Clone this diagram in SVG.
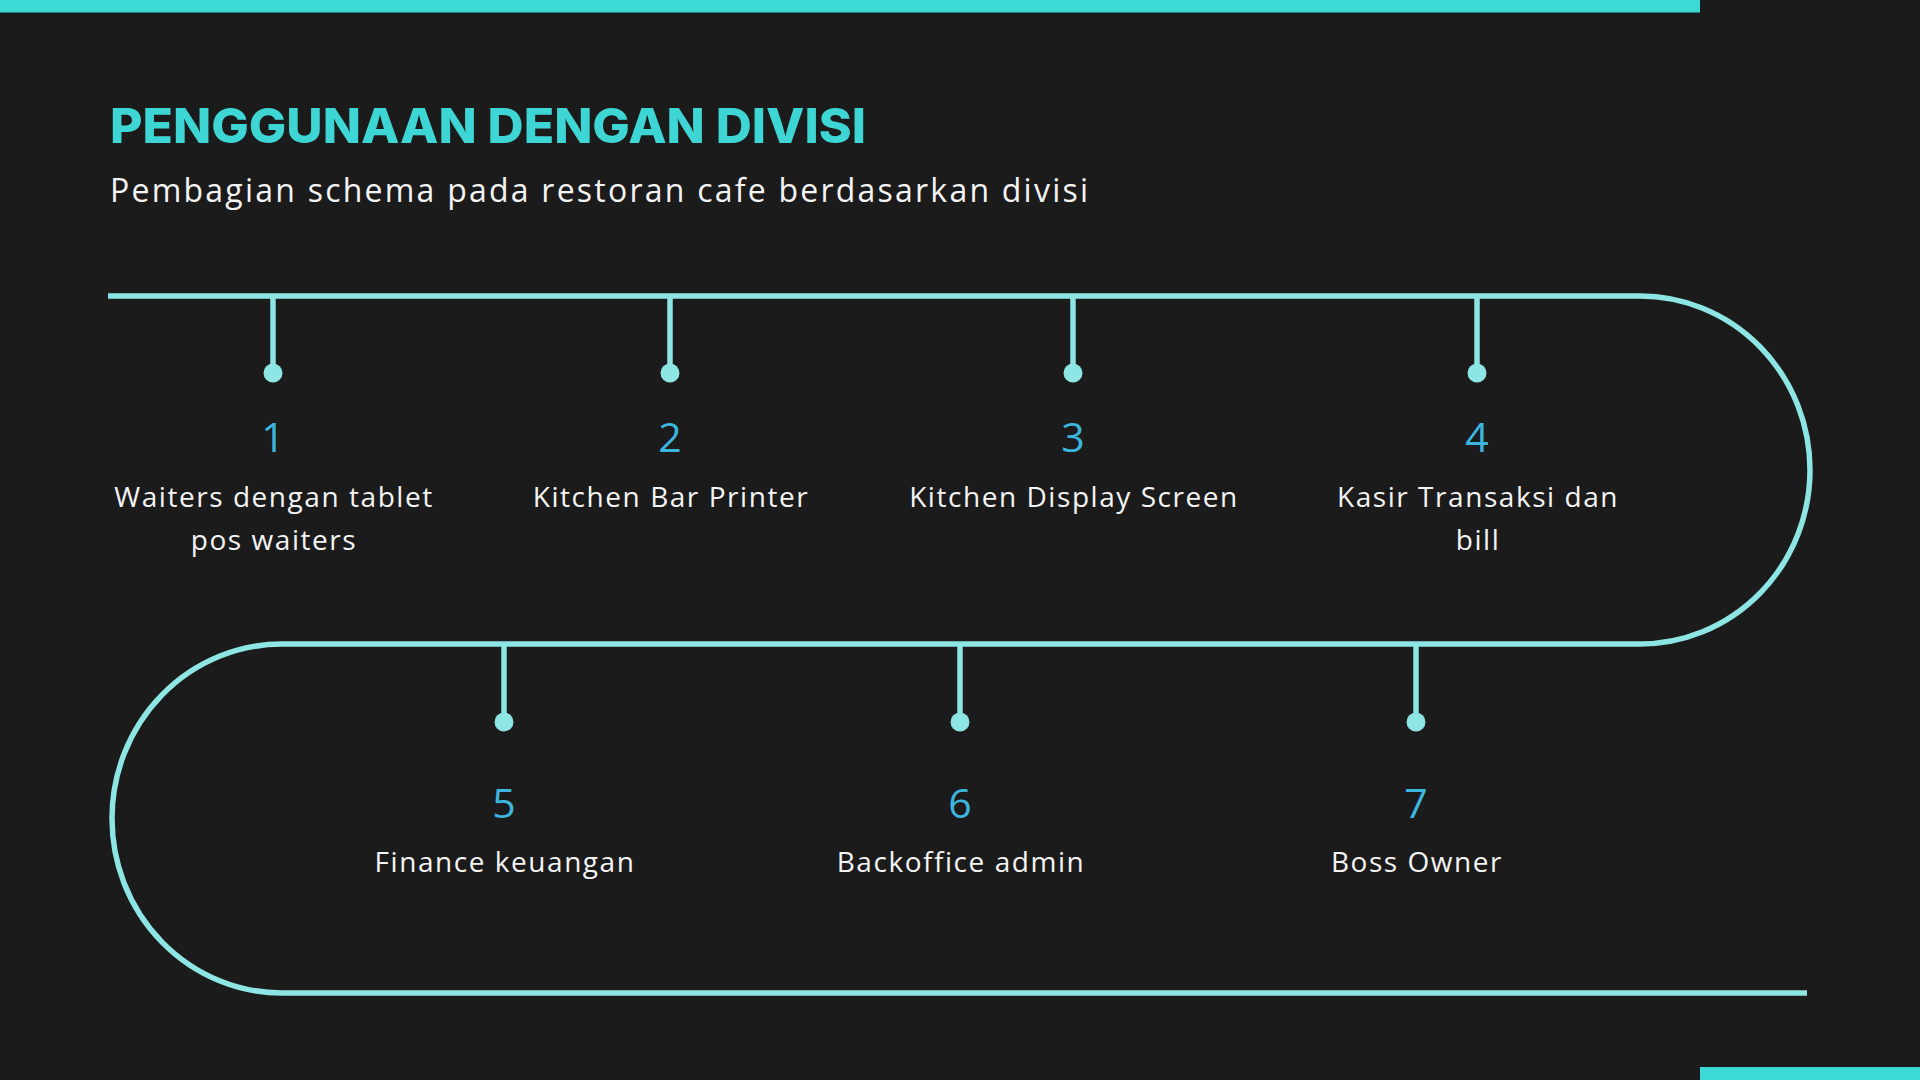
<svg xmlns="http://www.w3.org/2000/svg" width="1920" height="1080" viewBox="0 0 1920 1080">
  <style>
    .track { fill: none; stroke: #8ee6e4; stroke-width: 5.5; }
    .stem { stroke: #8ee6e4; stroke-width: 5.5; }
    .dot { fill: #8ee6e4; }
    .num { font-family: "Open Sans", "Liberation Sans", sans-serif; font-weight: 400; font-size: 41px; fill: #3db6df; text-anchor: middle; }
    .lbl { font-family: "Open Sans", "Liberation Sans", sans-serif; font-size: 28px; fill: #f4f4f4; text-anchor: middle; letter-spacing: 1.55px; }
    .title { font-family: Inter, "Liberation Sans", sans-serif; font-weight: 800; font-size: 48px; fill: #3dd6d4; }
    .sub { font-family: "Open Sans", "Liberation Sans", sans-serif; font-size: 32px; fill: #f4f4f4; }
  </style>
  <rect width="1920" height="1080" fill="#1b1b1b"/>
  <rect x="0" y="0" width="1700" height="12.5" fill="#3dd9d6"/>
  <rect x="1700" y="1067" width="220" height="13" fill="#3dd9d6"/>

  <text class="title" x="110" y="143" textLength="756" lengthAdjust="spacingAndGlyphs">PENGGUNAAN DENGAN DIVISI</text>
  <text class="sub" x="110" y="202" textLength="978" lengthAdjust="spacing">Pembagian schema pada restoran cafe berdasarkan divisi</text>

  <g id="connectors">
    <path class="track" d="M108,296 H1640 A170,174 0 0 1 1640,644 H282 A170,174.5 0 0 0 282,993 H1807"/>
  </g>

  <g id="node1">
    <line class="stem" x1="273" y1="296" x2="273" y2="373"/>
    <circle class="dot" cx="273" cy="373" r="9.5"/>
    <text class="num" x="273" y="452">1</text>
    <text class="lbl" x="274" y="507">Waiters dengan tablet</text>
    <text class="lbl" x="274" y="550">pos waiters</text>
  </g>
  <g id="node2">
    <line class="stem" x1="670" y1="296" x2="670" y2="373"/>
    <circle class="dot" cx="670" cy="373" r="9.5"/>
    <text class="num" x="670" y="452">2</text>
    <text class="lbl" x="671" y="507">Kitchen Bar Printer</text>
  </g>
  <g id="node3">
    <line class="stem" x1="1073" y1="296" x2="1073" y2="373"/>
    <circle class="dot" cx="1073" cy="373" r="9.5"/>
    <text class="num" x="1073" y="452">3</text>
    <text class="lbl" x="1074" y="507">Kitchen Display Screen</text>
  </g>
  <g id="node4">
    <line class="stem" x1="1477" y1="296" x2="1477" y2="373"/>
    <circle class="dot" cx="1477" cy="373" r="9.5"/>
    <text class="num" x="1477" y="452">4</text>
    <text class="lbl" x="1478" y="507">Kasir Transaksi dan</text>
    <text class="lbl" x="1478" y="550">bill</text>
  </g>
  <g id="node5">
    <line class="stem" x1="504" y1="644" x2="504" y2="722"/>
    <circle class="dot" cx="504" cy="722" r="9.5"/>
    <text class="num" x="504" y="818">5</text>
    <text class="lbl" x="505" y="872">Finance keuangan</text>
  </g>
  <g id="node6">
    <line class="stem" x1="960" y1="644" x2="960" y2="722"/>
    <circle class="dot" cx="960" cy="722" r="9.5"/>
    <text class="num" x="960" y="818">6</text>
    <text class="lbl" x="961" y="872">Backoffice admin</text>
  </g>
  <g id="node7">
    <line class="stem" x1="1416" y1="644" x2="1416" y2="722"/>
    <circle class="dot" cx="1416" cy="722" r="9.5"/>
    <text class="num" x="1416" y="818">7</text>
    <text class="lbl" x="1417" y="872">Boss Owner</text>
  </g>
</svg>
